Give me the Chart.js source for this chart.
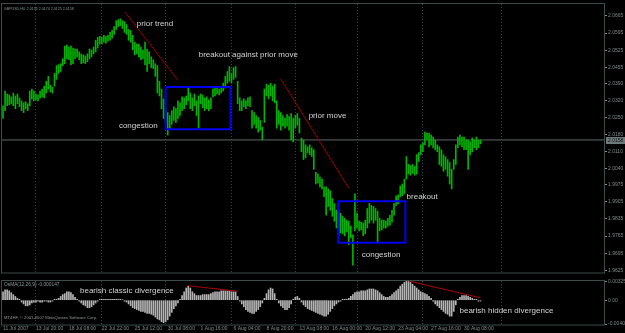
<!DOCTYPE html>
<html><head><meta charset="utf-8">
<script src="https://cdn.jsdelivr.net/npm/chart.js@4.4.1/dist/chart.umd.min.js"></script>
<style>
html,body{margin:0;padding:0;background:#000;width:625px;height:333px;overflow:hidden}
#c1{position:absolute;left:0;top:0}
#c2{position:absolute;left:0;top:277px}
</style></head><body>
<canvas id="c1" width="625" height="277"></canvas>
<canvas id="c2" width="625" height="56"></canvas>
<script>
// ---------- data ----------
const symbolHeader = 'GBPUSD,H4  2.0135 2.0174 2.0125 2.0158';
const osmaHeader = 'OsMA(12,26,9) -0.000147';
const copyrightText = 'MT4HF, \u00a9 2001-2007 MetaQuotes Software Corp.';
const timeLabels = ['11 Jul 2007','13 Jul 20:00','18 Jul 08:00','22 Jul 22:00','25 Jul 12:00','30 Jul 08:00','1 Aug 16:00','6 Aug 04:00','8 Aug 20:00','13 Aug 08:00','16 Aug 00:00','20 Aug 12:00','23 Aug 04:00','27 Aug 16:00','30 Aug 08:00'];
const labelStep = 16;
const visibleSlots = 293;
const weekStarts = [16, 48, 79, 111, 142, 172, 204, 242];
const priceTicks = [2.0665,2.0595,2.0525,2.0455,2.0390,2.0320,2.0250,2.0180,2.0110,2.0040,1.9975,1.9905,1.9835,1.9765,1.9695,1.9625];
const bid = 2.0158;
const highs = [
2.0298,2.0358,2.0346,2.0342,2.0334,2.0350,2.0338,2.0346,2.0330,2.0318,
2.0310,2.0314,2.0306,2.0358,2.0366,2.0358,2.0346,2.0342,2.0358,2.0366,
2.0378,2.0398,2.0418,2.0382,2.0374,2.0430,2.0462,2.0466,2.0470,2.0490,
2.0542,2.0546,2.0538,2.0542,2.0534,2.0530,2.0530,2.0518,2.0510,2.0506,
2.0502,2.0510,2.0530,2.0526,2.0538,2.0566,2.0578,2.0582,2.0578,2.0586,
2.0582,2.0586,2.0598,2.0606,2.0622,2.0646,2.0650,2.0654,2.0646,2.0642,
2.0630,2.0610,2.0606,2.0586,2.0558,2.0550,2.0550,2.0538,2.0526,2.0558,
2.0530,2.0518,2.0498,2.0486,2.0470,2.0462,2.0398,2.0366,2.0326,2.0286,
2.0270,2.0258,2.0278,2.0294,2.0286,2.0318,2.0310,2.0334,2.0330,2.0338,
2.0374,2.0350,2.0330,2.0346,2.0318,2.0338,2.0346,2.0342,2.0330,2.0334,
2.0322,2.0330,2.0366,2.0374,2.0370,2.0366,2.0374,2.0390,2.0418,2.0438,
2.0458,2.0430,2.0454,2.0458,2.0398,2.0330,2.0318,2.0326,2.0318,2.0330,
2.0334,2.0278,2.0270,2.0258,2.0250,2.0238,2.0210,2.0366,2.0386,2.0382,
2.0390,2.0378,2.0386,2.0318,2.0278,2.0270,2.0258,2.0246,2.0262,2.0254,
2.0266,2.0246,2.0258,2.0266,2.0246,2.0166,2.0158,2.0138,2.0130,2.0138,
2.0126,2.0118,2.0026,2.0018,2.0006,1.9998,1.9966,1.9966,1.9958,1.9950,
1.9918,1.9898,1.9870,1.9870,1.9858,1.9846,1.9838,1.9830,1.9826,1.9806,
1.9770,1.9938,1.9858,1.9826,1.9822,1.9818,1.9830,1.9878,1.9898,1.9890,
1.9886,1.9878,1.9866,1.9838,1.9830,1.9830,1.9826,1.9838,1.9850,1.9870,
1.9898,1.9930,1.9934,1.9970,1.9978,1.9998,2.0090,2.0058,2.0054,2.0058,
2.0050,2.0098,2.0106,2.0138,2.0146,2.0190,2.0186,2.0186,2.0178,2.0170,
2.0158,2.0138,2.0130,2.0118,2.0098,2.0090,2.0078,2.0066,2.0038,2.0078,
2.0138,2.0170,2.0178,2.0170,2.0170,2.0158,2.0158,2.0150,2.0166,2.0158,
2.0170,2.0158,2.0158];
const lows = [
2.0246,2.0278,2.0298,2.0302,2.0306,2.0298,2.0286,2.0306,2.0294,2.0278,
2.0270,2.0286,2.0278,2.0298,2.0326,2.0318,2.0322,2.0318,2.0330,2.0334,
2.0330,2.0350,2.0366,2.0354,2.0350,2.0378,2.0406,2.0430,2.0438,2.0462,
2.0470,2.0490,2.0486,2.0466,2.0470,2.0490,2.0498,2.0486,2.0470,2.0474,
2.0470,2.0478,2.0490,2.0498,2.0510,2.0518,2.0534,2.0550,2.0550,2.0558,
2.0554,2.0562,2.0566,2.0574,2.0590,2.0610,2.0622,2.0626,2.0614,2.0598,
2.0590,2.0566,2.0558,2.0526,2.0506,2.0510,2.0498,2.0486,2.0490,2.0466,
2.0438,2.0470,2.0454,2.0450,2.0418,2.0350,2.0338,2.0286,2.0246,2.0230,
2.0178,2.0206,2.0222,2.0238,2.0230,2.0246,2.0258,2.0278,2.0286,2.0302,
2.0318,2.0286,2.0278,2.0298,2.0258,2.0206,2.0306,2.0290,2.0278,2.0286,
2.0278,2.0286,2.0334,2.0338,2.0346,2.0342,2.0350,2.0358,2.0370,2.0390,
2.0398,2.0390,2.0406,2.0414,2.0306,2.0278,2.0278,2.0294,2.0286,2.0298,
2.0294,2.0206,2.0222,2.0206,2.0190,2.0198,2.0158,2.0230,2.0338,2.0326,
2.0338,2.0318,2.0310,2.0206,2.0222,2.0198,2.0214,2.0206,2.0214,2.0198,
2.0158,2.0150,2.0206,2.0218,2.0186,2.0110,2.0078,2.0086,2.0106,2.0098,
2.0090,2.0038,1.9978,1.9982,1.9966,1.9958,1.9926,1.9850,1.9886,1.9870,
1.9846,1.9826,1.9798,1.9766,1.9778,1.9774,1.9766,1.9782,1.9730,1.9758,
1.9646,1.9786,1.9798,1.9786,1.9790,1.9766,1.9774,1.9798,1.9818,1.9830,
1.9818,1.9830,1.9738,1.9786,1.9790,1.9798,1.9798,1.9806,1.9810,1.9822,
1.9850,1.9890,1.9898,1.9926,1.9930,1.9938,1.9998,2.0018,2.0014,2.0022,
2.0014,2.0018,2.0070,2.0098,2.0110,2.0138,2.0158,2.0130,2.0138,2.0126,
2.0118,2.0110,2.0058,2.0050,2.0030,2.0038,2.0010,1.9978,1.9958,2.0038,
2.0058,2.0126,2.0138,2.0130,2.0118,2.0118,2.0038,2.0098,2.0110,2.0126,
2.0118,2.0126,2.0142];
const osma = [
0.00144,0.00176,0.00176,0.0016,0.00128,0.00096,0.00064,0.00032,0.00016,-0.00032,
-0.00064,-0.00096,-0.00096,-0.0008,-0.00048,-0.00032,-0.00032,-0.00016,-0.00032,-0.00032,
-0.00016,-0.00016,-0.00032,-0.00032,-0.00016,0.00016,0.00016,0.00032,0.00064,0.00096,
0.00112,0.00144,0.00144,0.00128,0.00096,0.00048,0.00016,-0.00016,-0.00048,-0.0008,
-0.00096,-0.00128,-0.00128,-0.00112,-0.0008,-0.00048,-0.00016,0.00016,0.00016,0.00016,
0.00016,0.00016,0.00016,0.00016,0.00016,0.00016,0.00016,0.00016,0.00008,-0.00016,
-0.00032,-0.00064,-0.00096,-0.00128,-0.00144,-0.0016,-0.00176,-0.00192,-0.00192,-0.00208,
-0.00224,-0.00224,-0.0024,-0.00256,-0.00288,-0.0032,-0.00336,-0.00368,-0.00384,-0.00368,
-0.00336,-0.00272,-0.00208,-0.00144,-0.00096,-0.00048,0.00016,0.0008,0.00144,0.00208,
0.0024,0.00208,0.00144,0.00112,0.0008,0.0008,0.0008,0.00096,0.00096,0.00096,
0.00096,0.00112,0.00128,0.00144,0.00144,0.00144,0.0016,0.0016,0.0016,0.0016,
0.0016,0.00144,0.00144,0.00144,0.00064,-0.00016,-0.00064,-0.00112,-0.0016,-0.00192,
-0.00208,-0.00224,-0.00224,-0.00192,-0.0016,-0.00112,-0.00048,0.00032,0.00112,0.00176,
0.00208,0.00192,0.00112,0.00016,-0.00048,-0.00096,-0.00128,-0.0016,-0.0016,-0.00128,
-0.00064,0.00016,0.00048,0.00064,0.00032,-0.00032,-0.0008,-0.00112,-0.00144,-0.0016,
-0.00176,-0.00192,-0.00208,-0.00224,-0.0024,-0.00256,-0.00272,-0.00272,-0.0024,-0.00192,
-0.00144,-0.00096,-0.00064,-0.00032,-0.00016,0.00016,0.00016,0.00016,0.00032,0.00064,
0.00096,0.00128,0.00144,0.00144,0.0016,0.0016,0.0016,0.00176,0.00192,0.00192,
0.00192,0.00176,0.0016,0.00128,0.00096,0.00064,0.00048,0.00048,0.00064,0.00096,
0.00128,0.0016,0.00192,0.0024,0.00272,0.00304,0.0032,0.0032,0.00304,0.00272,
0.0024,0.00208,0.00176,0.00144,0.00128,0.00112,0.00096,0.00064,0.00032,-0.00016,
-0.00064,-0.00096,-0.00128,-0.0016,-0.00192,-0.00224,-0.0024,-0.00272,-0.00272,-0.00192,
-0.0008,0.00016,0.00048,0.0008,0.0008,0.0008,0.00064,0.00048,0.00032,0.00016,
0.00016,-0.00016,-0.000147];
const osmaTicks = [0.003254, 0, -0.00408];
// annotations: [barFrom, valueFrom, barTo, valueTo]
const priceTrendLines = [[59.2, 2.0682, 85, 2.0402], [134.8, 2.0409, 168, 1.9961]];
// boxes: [barLeft, barRight, priceTop, priceBottom]
const congestionBoxes = [[79, 110.5, 2.0375, 2.0202], [162.8, 195.5, 1.9907, 1.9738]];
const priceNotes = [['prior trend', 65, 2.0634], ['breakout against prior move', 95.1, 2.0506], ['congestion', 56.3, 2.0214], ['prior move', 148.5, 2.0258], ['congestion', 174.3, 1.9690], ['breakout', 196.1, 1.9926]];
const osmaLines = [[89.8, 0.00248, 114.1, 0.00152], [197.1, 0.00328, 232, 0.0004]];
const osmaNotes = [['bearish classic divergence', 37.4, 0.00168], ['bearish hidden divergence', 221.8, -0.00184]];

// ---------- styles ----------
const FONT = 'Liberation Sans, Arial, sans-serif';
const axisColor = '#7c8c8a';
const frameColor = '#3c4c4a';
const gridColor = '#2c4a40';
const noteColor = '#d2d2d2';

Chart.defaults.font.family = FONT;
Chart.defaults.animation = false;
Chart.defaults.events = [];
Chart.defaults.plugins.legend.display = false;
Chart.defaults.plugins.tooltip.enabled = false;

const xTicks = Array.from(new Set([...timeLabels.map((_, k) => k * labelStep), ...weekStarts])).sort((a, b) => a - b);
function xScale(showLabels) {
  return {
    type: 'linear', min: -0.5, max: visibleSlots - 0.5, offset: false,
    afterBuildTicks: s => { s.ticks = xTicks.map(v => ({ value: v })); },
    afterFit: s => { s.height = showLabels ? 8 : 0; },
    ticks: {
      display: showLabels, autoSkip: false, maxRotation: 0, minRotation: 0, align: 'start', padding: 1,
      color: axisColor, font: { size: 5 },
      callback: v => (v % labelStep === 0 && v / labelStep < timeLabels.length) ? timeLabels[v / labelStep] : ''
    },
    grid: { offset: false, drawTicks: false, lineWidth: 1,
      color: c => weekStarts.includes(c.tick && c.tick.value) ? gridColor : 'rgba(0,0,0,0)' },
    border: { display: false, dash: [1, 2] }
  };
}
function yScale(min, max, tickVals, fmt) {
  return {
    type: 'linear', position: 'right', min, max,
    afterBuildTicks: s => { s.ticks = tickVals.map(v => ({ value: v })); },
    afterFit: s => { s.width = 20; },
    ticks: { color: axisColor, font: { size: 5 }, padding: 1, callback: fmt },
    grid: { drawOnChartArea: false, drawTicks: true, tickLength: 2, tickColor: axisColor },
    border: { display: false }
  };
}
function lineSet(points, color, width) {
  return { type: 'line', data: points.map(p => ({ x: p[0], y: p[1] })), borderColor: color, borderWidth: width,
    pointRadius: 0, fill: false, tension: 0, order: 0 };
}
const framePlugin = {
  id: 'frame',
  beforeDraw(chart) {
    const c = chart.ctx; c.save(); c.fillStyle = '#000'; c.fillRect(0, 0, chart.width, chart.height); c.restore();
  },
  afterDraw(chart) {
    const a = chart.chartArea, c = chart.ctx;
    c.save(); c.strokeStyle = frameColor; c.lineWidth = 1;
    c.strokeRect(Math.round(a.left) - 0.5, Math.round(a.top) - 0.5, Math.round(a.right - a.left), Math.round(a.bottom - a.top) + 0.5);
    c.restore();
  }
};
function notesPlugin(notes, extra) {
  return {
    id: 'notes',
    afterDatasetsDraw(chart) {
      const c = chart.ctx, xs = chart.scales.x, ys = chart.scales.y;
      c.save(); c.fillStyle = noteColor; c.font = '8px ' + FONT; c.textBaseline = 'middle'; c.textAlign = 'left';
      notes.forEach(n => c.fillText(n[0], xs.getPixelForValue(n[1]), ys.getPixelForValue(n[2])));
      c.restore();
      extra(chart);
    }
  };
}

// ---------- main price chart ----------
new Chart(document.getElementById('c1'), {
  type: 'bar',
  data: {
    datasets: [
      { type: 'bar', data: highs.map((h, i) => ({ x: i, y: [lows[i], h] })), backgroundColor: '#00b400',
        borderWidth: 0, barThickness: 1, grouped: false, order: 2 },
      { type: 'line', data: [{ x: -0.5, y: bid }, { x: visibleSlots - 0.5, y: bid }], borderColor: '#5c6868',
        borderWidth: 1, pointRadius: 0, order: 3 },
      ...priceTrendLines.map(l => lineSet([[l[0], l[1]], [l[2], l[3]]], '#9a0000', 1)),
      ...congestionBoxes.map(b => lineSet([[b[0], b[2]], [b[1], b[2]], [b[1], b[3]], [b[0], b[3]], [b[0], b[2]]], '#0000f0', 2))
    ]
  },
  options: {
    responsive: false, devicePixelRatio: 1,
    layout: { padding: { left: 2, top: 1, right: 0, bottom: 1 } },
    scales: { x: xScale(false), y: yScale(1.9614, 2.0714, priceTicks, v => v.toFixed(4)) }
  },
  plugins: [framePlugin, notesPlugin(priceNotes, chart => {
    const c = chart.ctx, a = chart.chartArea, ys = chart.scales.y;
    c.save();
    c.fillStyle = '#8c9898'; c.font = '3.6px ' + FONT; c.textBaseline = 'middle';
    c.fillText(symbolHeader, a.left + 2, a.top + 5);
    const y = ys.getPixelForValue(bid);
    c.fillStyle = '#6e7a7a'; c.fillRect(a.right + 1, Math.round(y) - 3, 19, 7);
    c.fillStyle = '#101010'; c.font = '5px ' + FONT; c.fillText(bid.toFixed(4), a.right + 3, y + 0.5);
    c.restore();
  })]
});

// ---------- OsMA indicator ----------
new Chart(document.getElementById('c2'), {
  type: 'bar',
  data: {
    datasets: [
      { type: 'bar', data: osma.map((v, i) => ({ x: i, y: v })), backgroundColor: '#b4b4b4',
        borderWidth: 0, barThickness: 1, grouped: false, order: 2 },
      ...osmaLines.map(l => lineSet([[l[0], l[1]], [l[2], l[3]]], '#b00000', 1))
    ]
  },
  options: {
    responsive: false, devicePixelRatio: 1,
    layout: { padding: { left: 2, top: 1, right: 0, bottom: 0 } },
    scales: { x: xScale(true), y: yScale(-0.00424, 0.00328, osmaTicks, v => v === 0 ? '0.00' : String(v)) }
  },
  plugins: [framePlugin, notesPlugin(osmaNotes, chart => {
    const c = chart.ctx, a = chart.chartArea;
    c.save(); c.fillStyle = '#8c9898'; c.textBaseline = 'middle';
    c.font = '4.8px ' + FONT; c.fillText(osmaHeader, a.left + 2, a.top + 4);
    c.font = '4.2px ' + FONT; c.fillText(copyrightText, a.left + 2, a.bottom - 7);
    c.restore();
  })]
});
</script>
</body></html>
